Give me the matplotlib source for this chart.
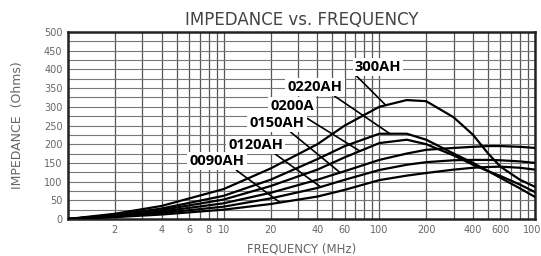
import numpy as np
import matplotlib.pyplot as plt

# frecuencias (MHz) y curvas de impedancia (Ohms)
freq = [1, 2, 4, 10, 20, 40, 60, 100, 150, 200, 300, 400, 500, 600, 800, 1000]
z_300ah = [0, 14, 35, 80, 135, 200, 250, 300, 318, 315, 272, 225, 175, 140, 105, 86]
z_0220ah = [0, 11, 28, 62, 105, 160, 195, 228, 228, 212, 175, 150, 128, 110, 82, 59]
z_0200a = [0, 10, 24, 52, 88, 132, 165, 203, 212, 200, 170, 145, 128, 115, 92, 72]
z_0150ah = [0, 8, 20, 42, 70, 105, 128, 158, 175, 185, 190, 193, 195, 195, 193, 190]
z_0120ah = [0, 6, 16, 33, 55, 83, 105, 131, 145, 152, 157, 158, 158, 157, 154, 150]
z_0090ah = [0, 5, 12, 25, 40, 60, 78, 104, 116, 123, 132, 137, 139, 140, 137, 132]

curves = [z_300ah, z_0220ah, z_0200a, z_0150ah, z_0120ah, z_0090ah]
names = ['300AH', '0220AH', '0200A', '0150AH', '0120AH', '0090AH']
# posicion de cada etiqueta (MHz, Ohms) y frecuencia donde toca la curva
label_f = [98, 38.6, 27.5, 22, 16.1, 9.06]
label_z = [406, 353, 302, 257, 198, 155]
leader_f = [110, 117, 75, 56, 42, 23]
leader_rel = [0.0, 0.8, 0.65, 0.7, 0.8, 0.8]

xticks = [2, 4, 6, 8, 10, 20, 40, 60, 100, 200, 400, 600, 1000]
grid_x = [1, 2, 3, 4, 5, 6, 7, 8, 9, 10, 20, 30, 40, 50, 60, 70, 80, 90,
          100, 200, 300, 400, 500, 600, 700, 800, 900, 1000]

fig = plt.figure(figsize=(5.41, 2.56), dpi=100)
ax = fig.add_axes([68 / 541, 37 / 256, 467 / 541, 187 / 256])

for z in curves:
    ax.plot(freq, z, color='black', lw=1.6, zorder=3)

for name, fx, zx, fe, rx, z in zip(names, label_f, label_z, leader_f, leader_rel, curves):
    ze = np.interp(np.log10(fe), np.log10(freq), z)
    ax.annotate(name, xy=(fe, ze), xytext=(fx, zx), ha='center', va='center',
                fontsize=10.5, fontweight='bold', family='Open Sans', color='black',
                bbox=dict(boxstyle='square,pad=0.15', fc='white', ec='none'),
                arrowprops=dict(arrowstyle='-', color='black', lw=1.2,
                                relpos=(rx, 0), shrinkA=0, shrinkB=0),
                zorder=5)

ax.set_xscale('log')
ax.set_xlim(1, 1000)
ax.set_ylim(0, 500)
ax.set_xticks(xticks)
ax.set_xticklabels([str(t) for t in xticks])
ax.set_xticks(grid_x, minor=True)
ax.xaxis.set_minor_formatter(plt.NullFormatter())
ax.set_yticks(range(0, 501, 50))
ax.set_yticks(range(0, 501, 25), minor=True)
ax.tick_params(which='both', length=0, labelsize=7, colors='#666', pad=4)
ax.grid(which='both', axis='x', color='#555', lw=0.9)
ax.grid(which='both', axis='y', color='#777', lw=0.8)
ax.set_axisbelow(True)
for s in ax.spines.values():
    s.set_linewidth(1.8)
    s.set_color('#222')

ax.set_title('IMPEDANCE vs. FREQUENCY', fontsize=12, color='#444', pad=5)
ax.set_xlabel('FREQUENCY (MHz)', fontsize=8.5, color='#666', labelpad=6)
ax.set_ylabel('IMPEDANCE  (Ohms)', fontsize=9, color='#666', labelpad=14)

plt.savefig('out.png', dpi=100)
